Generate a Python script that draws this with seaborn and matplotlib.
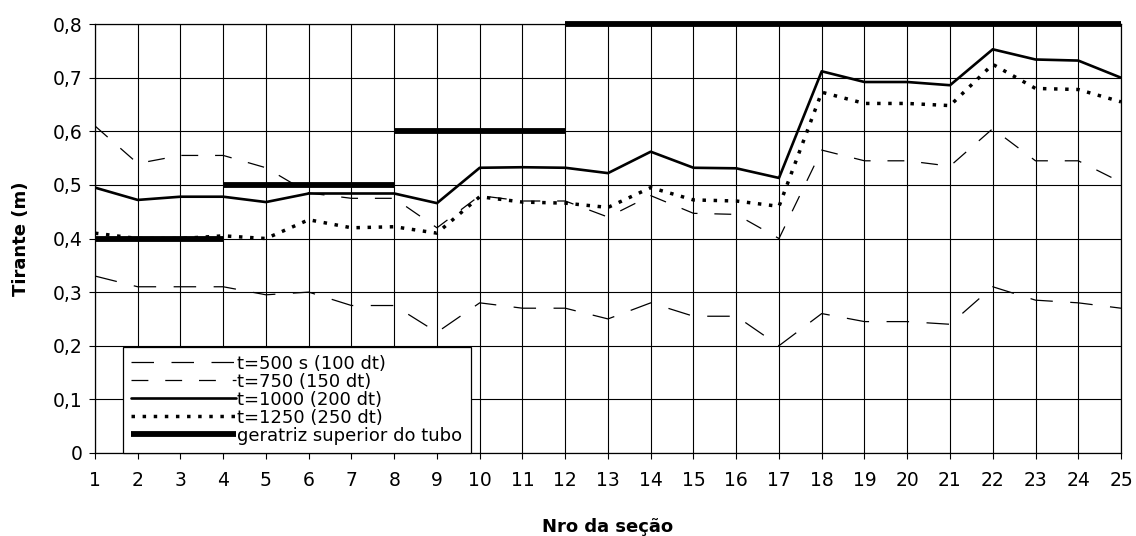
import matplotlib
matplotlib.use("Agg")
import matplotlib.pyplot as plt
import matplotlib.ticker as mticker
import seaborn as sns

sns.set_style("white")
plt.rcParams['font.family'] = ['DejaVu Sans']
plt.rcParams['text.color'] = 'black'
plt.rcParams['axes.labelcolor'] = 'black'
plt.rcParams['xtick.color'] = 'black'
plt.rcParams['ytick.color'] = 'black'

# ── Data ──────────────────────────────────────────────
secoes = list(range(1, 26))
t500 = [0.330, 0.310, 0.310, 0.310, 0.295, 0.300, 0.275, 0.275, 0.225, 0.280,
        0.270, 0.270, 0.250, 0.280, 0.255, 0.255, 0.200, 0.260, 0.245, 0.245,
        0.240, 0.310, 0.285, 0.280, 0.270]
t750 = [0.610, 0.540, 0.555, 0.555, 0.532, 0.485, 0.475, 0.475, 0.420, 0.480,
        0.470, 0.470, 0.440, 0.480, 0.447, 0.445, 0.400, 0.565, 0.545, 0.545,
        0.535, 0.605, 0.545, 0.545, 0.505]
t1000 = [0.495, 0.472, 0.478, 0.478, 0.468, 0.484, 0.484, 0.484, 0.466, 0.532,
         0.533, 0.532, 0.522, 0.562, 0.532, 0.531, 0.513, 0.712, 0.692, 0.692,
         0.686, 0.753, 0.734, 0.732, 0.700]
t1250 = [0.410, 0.400, 0.400, 0.405, 0.400, 0.435, 0.420, 0.422, 0.410, 0.478,
         0.468, 0.466, 0.458, 0.495, 0.472, 0.470, 0.460, 0.673, 0.652, 0.652,
         0.648, 0.725, 0.680, 0.678, 0.655]
# tube crown (geratriz superior) per pipe stretch
trecho_ini = [1, 4, 8, 12]
trecho_fim = [4, 8, 12, 25]
geratriz = [0.4, 0.5, 0.6, 0.8]

fig, ax = plt.subplots(figsize=(11.36, 5.36), dpi=100)
fig.subplots_adjust(left=0.0836, right=0.9868, top=0.955, bottom=0.155)

sns.lineplot(x=secoes, y=t500, ax=ax, color="black", lw=0.9,
             linestyle=(0, (18, 14)), label="t=500 s (100 dt)")
sns.lineplot(x=secoes, y=t750, ax=ax, color="black", lw=0.9,
             linestyle=(0, (13.5, 13.5)), label="t=750 (150 dt)")
sns.lineplot(x=secoes, y=t1000, ax=ax, color="black", lw=1.9,
             label="t=1000 (200 dt)")
sns.lineplot(x=secoes, y=t1250, ax=ax, color="black", lw=2.5,
             linestyle=(0, (1, 2.2)), label="t=1250 (250 dt)")
for i, (a, b, d) in enumerate(zip(trecho_ini, trecho_fim, geratriz)):
    sns.lineplot(x=[a, b], y=[d, d], ax=ax, color="black", lw=4.2,
                 solid_capstyle="butt", clip_on=False,
                 label="geratriz superior do tubo" if i == 0 else None)

ax.set_xlim(1, 25)
ax.set_ylim(0, 0.8)
ax.set_xticks(secoes)
ax.set_yticks([i / 10 for i in range(9)])
ax.yaxis.set_major_formatter(mticker.FuncFormatter(
    lambda v, p: "0" if abs(v) < 1e-9 else f"{v:.1f}".replace(".", ",")))
ax.grid(True, color="black", lw=0.8)
for s in ax.spines.values():
    s.set_color("black")
    s.set_linewidth(0.9)
ax.tick_params(axis="both", direction="out", length=4, width=0.8,
               color="black", labelsize=13.5, bottom=True, left=True)
ax.tick_params(axis="x", pad=9)
ax.tick_params(axis="y", pad=5)

ax.set_xlabel("Nro da seção", fontsize=13, fontweight="bold", labelpad=20)
ax.set_ylabel("Tirante (m)", fontsize=13, fontweight="bold", labelpad=16)

leg = ax.legend(loc="lower left", bbox_to_anchor=(0.027, 0.0), fontsize=13,
                frameon=True, fancybox=False, handlelength=5.8,
                handletextpad=0.1, labelspacing=0.0, borderpad=0.45,
                borderaxespad=0.0)
leg.get_frame().set_edgecolor("black")
leg.get_frame().set_linewidth(0.9)
leg.get_frame().set_alpha(1)

plt.savefig("out.png", dpi=100)
plt.close()
